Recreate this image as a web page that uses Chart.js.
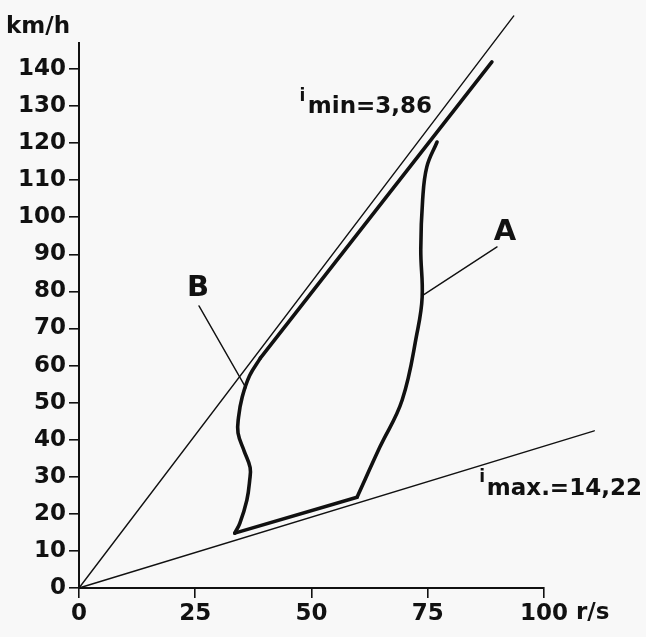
<!DOCTYPE html>
<html>
<head>
<meta charset="utf-8">
<script src="https://cdn.jsdelivr.net/npm/chart.js@4"></script>
<style>
  body { margin: 0; background: #f8f8f8; }
  canvas { display: block; }
</style>
</head>
<body>
<canvas id="myChart" width="646" height="637"></canvas>
<script>
// axis setup
const xTicks = [0, 25, 50, 75, 100];
const yMax = 147;

// ratio lines (r/s, km/h)
const iMinLine = [[0, 0], [93.5, 154.3]];
const iMaxLine = [[0, 0], [110.8, 42.4]];

// thick operating envelope, split where it has sharp corners
const upperEdge = [[88.8, 141.9], [39, 62]];
const curveB = [[39, 62], [36.7, 57.3], [35.1, 51.5], [34.3, 46], [34.2, 41.8],
                [35.5, 37], [36.8, 32.5], [36.7, 29], [36.1, 23.7], [34.6, 17.5], [33.5, 14.8]];
const lowerEdge = [[33.5, 14.8], [59.8, 24.5]];
const curveA = [[59.8, 24.5], [64.7, 38], [69.5, 50.7], [72.7, 68.8], [73.8, 78.5], [73.5, 91.2],
                [73.9, 104.7], [74.8, 113.6], [77, 120.3]];

// label leaders
const pointerA = [[74, 79], [89.9, 92]];
const pointerB = [[25.8, 76.1], [35.9, 54]];

const ink = '#111111';
const font = 'DejaVu Sans';

function pts(arr){
    return arr.map(p => ({x: p[0], y: p[1]}));
}

function line(arr, width, tension){
    return {
        data: pts(arr),
        showLine: true,
        borderColor: ink,
        borderWidth: width,
        borderCapStyle: 'round',
        borderJoinStyle: 'round',
        pointRadius: 0,
        tension: tension || 0,
        clip: false
    };
}

const labels = {
    id: 'labels',
    afterDraw(chart){
        const c = chart.ctx;
        const xs = chart.scales.x;
        const ys = chart.scales.y;
        const px = v => xs.getPixelForValue(v);
        const py = v => ys.getPixelForValue(v);
        c.save();
        c.fillStyle = ink;
        c.textBaseline = 'alphabetic';

        c.font = 'bold 23px "' + font + '"';
        c.textAlign = 'left';
        c.fillText('km/h', 6, 33);
        c.fillText('r/s', px(100) + 32, 619);

        // i min
        c.font = 'bold 17px "' + font + '"';
        c.fillText('i', px(47.4), py(131.4));
        c.font = 'bold 23px "' + font + '"';
        c.fillText('min=3,86', px(49.2), py(128));

        // i max
        c.font = 'bold 17px "' + font + '"';
        c.fillText('i', px(86.1), py(28.6));
        c.font = 'bold 23px "' + font + '"';
        c.fillText('max.=14,22', px(87.7), py(25.1));

        c.font = 'bold 29px "' + font + '"';
        c.textAlign = 'center';
        c.fillText('A', px(91.6), py(93.9));
        c.fillText('B', px(25.6), py(78.8));
        c.restore();
    }
};

const ctx = document.getElementById('myChart').getContext('2d');
const myChart = new Chart(ctx, {
    type: 'scatter',
    data: {
        datasets: [
            line(iMinLine, 1.4),
            line(iMaxLine, 1.4),
            line(pointerA, 1.4),
            line(pointerB, 1.4),
            line(upperEdge, 3.6),
            line(curveB, 3.6, 0.4),
            line(lowerEdge, 3.6),
            line(curveA, 3.6, 0.4)
        ]
    },
    options: {
        responsive: false,
        animation: false,
        devicePixelRatio: 1,
        layout: { padding: { top: 43, right: 102, left: 0, bottom: 0 } },
        plugins: {
            legend: { display: false },
            tooltip: { enabled: false }
        },
        scales: {
            x: {
                type: 'linear',
                min: 0,
                max: 100,
                afterBuildTicks: s => { s.ticks = xTicks.map(v => ({value: v})); },
                afterFit: s => { s.height = 49; },
                border: { display: true, color: ink, width: 2 },
                grid: { drawOnChartArea: false, drawTicks: true, tickLength: 10, color: ink, lineWidth: 1.6 },
                ticks: { color: ink, font: { family: font, size: 23, weight: 'bold' }, padding: 2, maxRotation: 0 }
            },
            y: {
                type: 'linear',
                min: 0,
                max: yMax,
                afterBuildTicks: s => {
                    const t = [];
                    for(let v = 0; v <= 140; v += 10) t.push({value: v});
                    s.ticks = t;
                },
                afterFit: s => { s.width = 79; },
                border: { display: true, color: ink, width: 2 },
                grid: { drawOnChartArea: false, drawTicks: true, tickLength: 10, color: ink, lineWidth: 1.6 },
                ticks: { color: ink, font: { family: font, size: 23, weight: 'bold' }, padding: 3 }
            }
        }
    },
    plugins: [labels]
});
</script>
</body>
</html>
